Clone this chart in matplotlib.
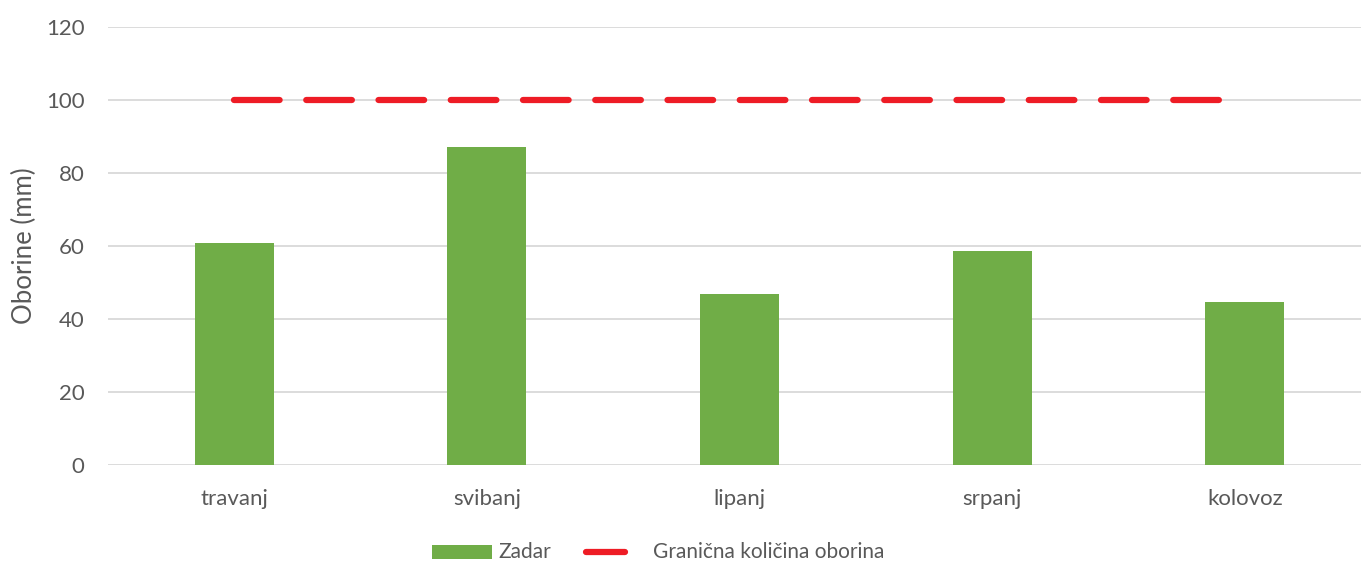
import matplotlib.pyplot as plt
from matplotlib.lines import Line2D
from matplotlib.patches import Rectangle

months = ['travanj', 'svibanj', 'lipanj', 'srpanj', 'kolovoz']
zadar = [60.8, 87.1, 46.8, 58.6, 44.7]
limit = [100, 100, 100, 100, 100]
y_ticks = [0, 20, 40, 60, 80, 100, 120]

green = '#70AD47'
red = '#EE1C25'
text_gray = '#595959'
grid_gray = '#D9D9D9'

plt.rcParams['font.family'] = ['Lato', 'DejaVu Sans']

W, H = 1361, 563
fig = plt.figure(figsize=(W / 100, H / 100), dpi=100)
ax = fig.add_axes([108 / W, 1 - 465 / H, 1 - 108 / W, (465 - 27) / H])

x = list(range(len(months)))
ax.bar(x, zadar, width=0.313, color=green, zorder=2)
line, = ax.plot(x, limit, color=red, linewidth=4.5, dash_capstyle='round',
                solid_capstyle='round', zorder=3)
line.set_dashes((7.3, 4.26))

ax.set_xlim(-0.5, 4.46)
ax.set_ylim(0, 120)
ax.set_yticks(y_ticks)
ax.set_xticks(x)
ax.set_xticklabels(months)
ax.grid(axis='y', color=grid_gray, linewidth=1.3, zorder=0)
ax.set_axisbelow(True)
for s in ax.spines.values():
    s.set_visible(False)
ax.tick_params(axis='both', length=0, labelsize=16, colors=text_gray)
ax.tick_params(axis='y', pad=17)
ax.tick_params(axis='x', pad=17)
ax.set_ylabel('Oborine (mm)', fontsize=18.5, color=text_gray, va='center')
ax.yaxis.set_label_coords(24 / W, 1 - 246 / H, transform=fig.transFigure)

# legenda (ručno složena)
ly = 1 - 552 / H
fig.patches.append(Rectangle((432 / W, ly - 7 / H), 60 / W, 14 / H,
                             transform=fig.transFigure, facecolor=green,
                             edgecolor='none'))
fig.text(498 / W, ly, 'Zadar', fontsize=15, color=text_gray, va='center')
fig.lines.append(Line2D([586 / W, 625 / W], [ly, ly], transform=fig.transFigure,
                        color=red, linewidth=4.5, linestyle='-',
                        solid_capstyle='round'))
fig.text(653 / W, ly, 'Granična količina oborina', fontsize=15,
         color=text_gray, va='center')

fig.savefig('out.png', dpi=100)
